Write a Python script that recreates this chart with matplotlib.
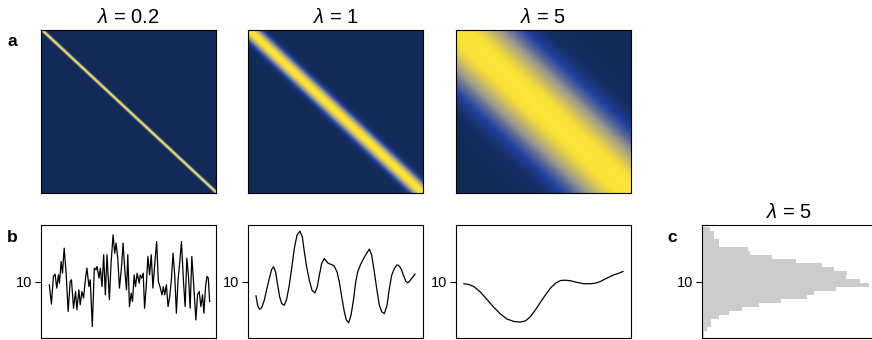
import numpy as np
import matplotlib
matplotlib.use("Agg")
import matplotlib.pyplot as plt
from matplotlib.colors import LinearSegmentedColormap

plt.rcParams['font.family'] = ['Liberation Sans', 'DejaVu Sans']
plt.rcParams['mathtext.fontset'] = 'custom'
plt.rcParams['mathtext.rm'] = 'Liberation Sans'
plt.rcParams['mathtext.it'] = 'Liberation Sans:italic'

# ---------------- data ----------------
lengthscales = [0.2, 1, 5]
titles = [r"$\lambda$ = 0.2", r"$\lambda$ = 1", r"$\lambda$ = 5"]
grid_lo, grid_hi, grid_n = 0.0, 20.0, 201

# sample drawn with lambda = 0.2
s1_x = [0.05, 0.31, 0.56, 0.77, 0.98, 1.19, 1.32, 1.53, 1.70, 1.91, 2.16, 2.41, 2.67, 2.83,
        3.09, 3.34, 3.51, 3.76, 3.93, 4.14, 4.35, 4.60, 4.77, 5.03, 5.19, 5.45, 5.70, 5.91,
        6.04, 6.29, 6.46, 6.67, 6.88, 7.09, 7.30, 7.60, 7.81, 8.06, 8.27, 8.44, 8.65, 8.86,
        9.11, 9.32, 9.53, 9.75, 9.91, 10.12, 10.34, 10.50, 10.71, 10.88, 11.09, 11.35, 11.47,
        11.64, 11.85, 12.02, 12.23, 12.44, 12.65, 12.86, 13.07, 13.29, 13.54, 13.75, 13.96,
        14.21, 14.38, 14.55, 14.76, 14.97, 15.18, 15.39, 15.60, 15.81, 16.02, 16.23, 16.45,
        16.66, 16.91, 17.12, 17.33, 17.54, 17.75, 17.96, 18.17, 18.47, 18.68, 18.89, 19.10,
        19.31, 19.48, 19.69, 19.86, 20.03, 20.20]
s1_y = [9.82, 8.80, 10.27, 10.39, 9.65, 10.35, 9.91, 11.06, 10.44, 11.77, 10.44, 8.41, 10.00,
        10.09, 8.58, 9.47, 8.50, 9.56, 8.76, 9.47, 9.12, 10.18, 10.71, 9.73, 10.09, 7.61, 10.71,
        10.62, 10.80, 10.18, 10.71, 9.73, 11.42, 9.29, 11.42, 9.03, 10.97, 12.48, 11.50, 12.04,
        11.24, 9.65, 10.71, 12.04, 10.62, 9.56, 11.42, 8.67, 9.38, 8.94, 10.35, 9.73, 10.44,
        9.91, 10.35, 10.18, 10.44, 8.58, 9.73, 11.33, 10.35, 11.42, 9.65, 10.88, 12.12, 10.00,
        9.73, 9.29, 9.73, 9.29, 9.82, 8.67, 9.20, 10.09, 11.50, 10.35, 8.32, 10.09, 11.06, 12.12,
        10.00, 8.67, 11.24, 10.27, 8.58, 11.33, 10.00, 7.96, 9.29, 9.47, 8.67, 9.29, 8.32, 9.73,
        10.27, 10.18, 8.94]

# sample drawn with lambda = 1
s2_x = [0.00, 0.21, 0.42, 0.71, 1.05, 1.38, 1.68, 1.97, 2.22, 2.47, 2.73, 2.98, 3.23, 3.56,
        3.86, 4.19, 4.49, 4.82, 5.16, 5.53, 5.83, 6.08, 6.37, 6.71, 7.04, 7.42, 7.71, 7.97,
        8.26, 8.60, 8.85, 9.10, 9.52, 9.85, 10.19, 10.48, 10.78, 11.11, 11.36, 11.66, 11.95,
        12.29, 12.54, 12.79, 13.12, 13.42, 13.84, 14.26, 14.55, 14.88, 15.18, 15.51, 15.81,
        16.14, 16.48, 16.77, 17.07, 17.40, 17.69, 17.90, 18.24, 18.53, 18.83, 19.08, 19.33,
        19.62, 20.00]
s2_y = [9.24, 8.74, 8.53, 8.60, 9.01, 9.63, 10.16, 10.64, 10.78, 10.51, 9.81, 9.19, 8.83, 8.74,
        9.06, 9.81, 10.69, 11.75, 12.46, 12.67, 12.37, 11.58, 10.78, 10.07, 9.54, 9.40, 9.72,
        10.34, 10.96, 11.22, 11.08, 10.96, 10.90, 10.81, 10.51, 9.98, 9.19, 8.39, 7.95, 7.81,
        8.21, 9.10, 9.98, 10.51, 10.87, 11.13, 11.45, 11.72, 11.40, 10.51, 9.63, 8.74, 8.39,
        8.30, 8.74, 9.63, 10.34, 10.69, 10.87, 10.87, 10.69, 10.34, 10.02, 9.93, 10.02, 10.19,
        10.39]

# sample drawn with lambda = 5
s3_x = [0.00, 0.63, 1.26, 2.09, 2.93, 3.77, 4.60, 5.44, 6.28, 7.03, 7.74, 8.37, 9.00, 9.62,
        10.25, 10.88, 11.51, 12.13, 12.76, 13.39, 14.23, 15.06, 15.90, 16.53, 17.15, 17.99,
        18.83, 19.46, 20.00]
s3_y = [9.88, 9.84, 9.73, 9.43, 9.03, 8.62, 8.27, 8.00, 7.88, 7.84, 7.91, 8.14, 8.50, 8.90,
        9.29, 9.65, 9.91, 10.05, 10.07, 10.04, 9.95, 9.88, 9.88, 9.91, 10.00, 10.18, 10.35,
        10.44, 10.53]

# histogram of sample values, lambda = 5 (bin edges top -> bottom, counts per bin)
hist_edges = [12.885, 12.673, 12.460, 12.248, 12.035, 11.823, 11.611, 11.398, 11.186, 10.973,
              10.761, 10.549, 10.336, 10.124, 9.912, 9.699, 9.487, 9.274, 9.062, 8.850, 8.637,
              8.425, 8.212, 8.000, 7.788, 7.575, 7.363, 7.150, 6.938]
hist_counts = [15, 23, 23, 33, 33, 91, 95, 140, 187, 240, 263, 290, 287, 315, 333, 267, 223,
               210, 157, 113, 80, 53, 33, 17, 17, 10, 3, 3]

panel_letters = ['a', 'b', 'c']
hist_title = r"$\lambda$ = 5"
ytick_value = [10]

# ---------------- style ----------------
cmap = LinearSegmentedColormap.from_list(
    "kern", [(0.0, '#132a57'), (0.12, '#152d62'), (0.30, '#2142a0'),
             (0.62, '#9d9a8e'), (0.95, '#fae135'), (1.0, '#fde43a')])

W, H = 872, 340
fig = plt.figure(figsize=(W / 100, H / 100), dpi=100)

def fx(px):
    return px / W

def fy(py_top, py_bot):
    return (H - py_bot) / H, (py_bot - py_top) / H

lefts = [41, 248, 456]
aw = 175
title_fs = 14.5

# heatmaps
grid = np.linspace(grid_lo, grid_hi, grid_n)
b, h = fy(30, 193)
for i, (lam, t) in enumerate(zip(lengthscales, titles)):
    ax = fig.add_axes([fx(lefts[i]), b, aw / W, h])
    K = np.exp(-(grid[:, None] - grid[None, :]) ** 2 / (2 * lam ** 2))
    ax.imshow(K, cmap=cmap, vmin=0, vmax=1, aspect='auto', interpolation='antialiased')
    ax.set_xticks([])
    ax.set_yticks([])
    ax.set_title(t, fontsize=title_fs, pad=5)
    for s in ax.spines.values():
        s.set_linewidth(0.8)

# samples
b, h = fy(225, 338)
samples = [(s1_x, s1_y), (s2_x, s2_y), (s3_x, s3_y)]
for i, (xs, ys) in enumerate(samples):
    ax = fig.add_axes([fx(lefts[i]), b, aw / W, h])
    ax.plot(xs, ys, color='black', lw=0.9)
    ax.set_xlim(-1, 21)
    ax.set_ylim(7, 13)
    ax.set_xticks([])
    ax.set_yticks(ytick_value)
    ax.tick_params(axis='y', labelsize=10.5, length=4, width=0.8, pad=2)
    for s in ax.spines.values():
        s.set_linewidth(0.8)

# histogram
ax = fig.add_axes([fx(702), b, aw / W, h])
ax.stairs(hist_counts[::-1], hist_edges[::-1], orientation='horizontal', fill=True,
          color='#cccccc', lw=0)
ax.set_xlim(0, 350)
ax.set_ylim(7, 13)
ax.set_xticks([])
ax.set_yticks(ytick_value)
ax.tick_params(axis='y', labelsize=10.5, length=4, width=0.8, pad=2)
ax.set_title(hist_title, fontsize=title_fs, pad=5)
for s in ax.spines.values():
    s.set_linewidth(0.8)

# panel letters
fig.text(fx(7), 1 - 42 / H, panel_letters[0], fontsize=12.5, fontweight='bold', va='center')
fig.text(fx(7), 1 - 237 / H, panel_letters[1], fontsize=12.5, fontweight='bold', va='center')
fig.text(fx(667), 1 - 237 / H, panel_letters[2], fontsize=12.5, fontweight='bold', va='center')

fig.savefig("out.png", dpi=100)
